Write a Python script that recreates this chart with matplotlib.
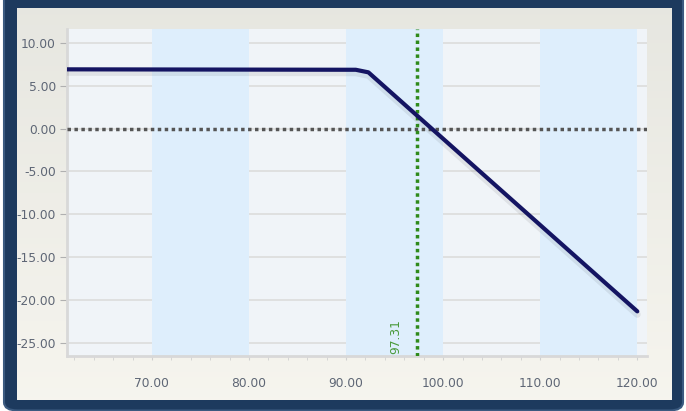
import numpy as np
import matplotlib
matplotlib.use("Agg")
import matplotlib.pyplot as plt
from matplotlib.patches import FancyBboxPatch

# payoff line
price = [61.25, 91.0, 92.3, 120.0]
pnl = [6.9, 6.85, 6.55, -21.3]

bands = [(70, 80), (90, 100), (110, 120)]
breakeven = 97.31
xticks = [70, 80, 90, 100, 110, 120]
yticks = [10, 5, 0, -5, -10, -15, -20, -25]

W, H = 686, 411
fig = plt.figure(figsize=(W / 100, H / 100), dpi=100)
fig.patch.set_facecolor("white")

# outer frame
frame = FancyBboxPatch((4 / W, 0.5 / H), 679 / W, 420 / H,
                       boxstyle="round,pad=0,rounding_size=0.02",
                       transform=fig.transFigure, facecolor="#1d3a5e",
                       edgecolor="#3b5a80", linewidth=1.5, zorder=-10)
fig.patches.append(frame)

# inner panel with gradient
bg = fig.add_axes([17 / W, 11 / H, 655 / W, 392 / H], zorder=1)
grad = np.linspace(0, 1, 256).reshape(-1, 1)
top = np.array([0.905, 0.905, 0.88])
bot = np.array([0.965, 0.960, 0.935])
img = top + (bot - top) * grad[:, :, None] * np.ones((1, 2, 1))
bg.imshow(img, aspect="auto", extent=[0, 1, 0, 1], origin="upper")
bg.set_axis_off()

ax = fig.add_axes([67 / W, 55 / H, 580 / W, 327 / H], zorder=2)
ax.set_facecolor("#f0f4f8")
ax.set_xlim(61.25, 121.0)
ax.set_ylim(-26.5, 11.6)

ax.set_yticks(yticks)
ax.set_yticklabels([f"{v:.2f}" for v in yticks])
ax.set_xticks(xticks)
ax.set_xticklabels([f"{v:.2f}" for v in xticks])
ax.set_xticks(np.arange(62, 121, 2), minor=True)

ax.grid(axis="y", color="#dcdcdc", linewidth=1.2, zorder=0)
ax.set_axisbelow(True)

for a, b in bands:
    ax.axvspan(a, b, color="#deeefc", zorder=1, linewidth=0)

ax.axhline(0, color="#555555", linestyle=(0, (1, 1)), linewidth=2.5, zorder=3)
ax.axvline(breakeven, color="#2f8a1a", linestyle=(0, (1, 1)), linewidth=2.5, zorder=3)
ax.text(breakeven - 2.2, -24.2, f"{breakeven:.2f}", rotation=90, color="#4a9a3a",
        fontsize=8.8, ha="center", va="center", zorder=4)

# shadow then line
ax.plot(price, [v - 0.35 for v in pnl], color="#000000", alpha=0.07, linewidth=5,
        solid_capstyle="round", zorder=4)
ax.plot(price, pnl, color="#141462", linewidth=3, solid_capstyle="round",
        solid_joinstyle="round", zorder=5)

for s in ["top", "right"]:
    ax.spines[s].set_visible(False)
for s in ["left", "bottom"]:
    ax.spines[s].set_color("#d8d8d8")
    ax.spines[s].set_linewidth(2)

ax.tick_params(axis="y", which="major", length=5, color="#b0b0b0",
               labelcolor="#5e6675", labelsize=8.8, pad=3)
ax.tick_params(axis="x", which="major", length=3, color="#d0d0d0",
               labelcolor="#5e6675", labelsize=8.8, pad=12)
ax.tick_params(axis="x", which="minor", length=3, color="#d0d0d0")

fig.savefig("out.png", dpi=100, facecolor=fig.get_facecolor())
